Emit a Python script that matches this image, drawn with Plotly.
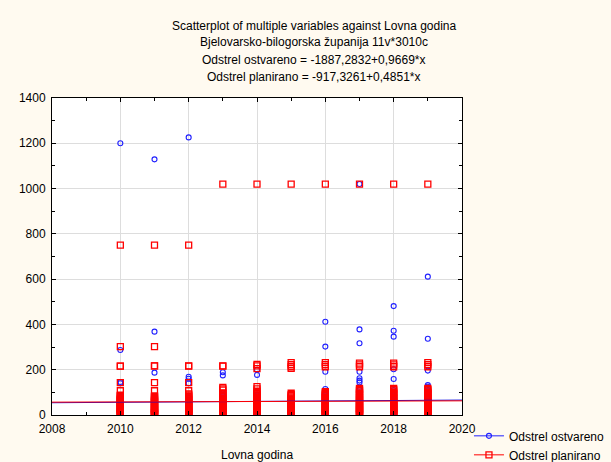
import plotly.graph_objects as go

# ---- data ----
years = [2010, 2011, 2012, 2013, 2014, 2015, 2016, 2017, 2018, 2019]

ostvareno_2010 = [1200, 287, 146, 140, 80, 75, 70, 62, 55, 50, 45, 40, 35, 31, 28, 24, 20, 17, 14, 11, 9, 7, 5, 4, 3, 2, 1, 0, 0, 0]
planirano_2010 = [750, 302, 216, 216, 143, 107, 88, 85, 80, 76, 72, 68, 64, 60, 56, 52, 48, 44, 40, 36, 32, 28, 25, 22, 18, 15, 12, 9, 6, 3]
ostvareno_2011 = [1129, 368, 187, 80, 76, 71, 66, 60, 54, 49, 45, 41, 37, 33, 29, 26, 22, 19, 16, 14, 11, 9, 7, 6, 4, 3, 2, 1, 0, 0]
planirano_2011 = [750, 302, 217, 217, 143, 107, 84, 81, 77, 73, 69, 63, 59, 55, 50, 46, 43, 38, 34, 30, 27, 23, 20, 16, 13, 10, 8, 5, 3, 1]
ostvareno_2012 = [1226, 169, 160, 140, 85, 79, 74, 68, 63, 57, 52, 47, 43, 38, 34, 30, 26, 23, 20, 17, 14, 12, 10, 8, 6, 4, 3, 2, 1, 0]
planirano_2012 = [750, 217, 216, 143, 107, 93, 89, 84, 79, 74, 70, 66, 61, 57, 53, 48, 44, 40, 36, 32, 28, 24, 21, 17, 14, 11, 8, 6, 3, 1]
ostvareno_2013 = [189, 175, 95, 88, 84, 78, 73, 67, 62, 57, 52, 48, 44, 40, 36, 32, 28, 25, 22, 19, 16, 13, 11, 9, 7, 5, 3, 2, 1, 0]
planirano_2013 = [1020, 217, 216, 122, 115, 110, 98, 93, 88, 84, 79, 74, 70, 65, 61, 56, 52, 47, 43, 39, 35, 31, 27, 23, 19, 15, 12, 8, 5, 2]
ostvareno_2014 = [200, 177, 90, 86, 81, 76, 71, 66, 61, 56, 51, 47, 43, 39, 35, 31, 27, 24, 21, 18, 15, 12, 10, 8, 6, 4, 3, 2, 1, 0]
planirano_2014 = [1020, 224, 217, 205, 125, 115, 105, 96, 92, 87, 83, 78, 73, 69, 64, 60, 55, 51, 46, 42, 38, 33, 29, 25, 21, 17, 13, 9, 6, 2]
ostvareno_2015 = [72, 68, 64, 60, 56, 52, 48, 44, 41, 37, 34, 30, 27, 24, 21, 18, 16, 13, 11, 9, 7, 6, 4, 3, 2, 1, 1, 0, 0, 0]
planirano_2015 = [1020, 231, 222, 213, 206, 96, 90, 85, 80, 75, 71, 66, 62, 57, 53, 49, 44, 40, 36, 32, 28, 24, 20, 17, 13, 10, 7, 4, 2, 0]
ostvareno_2016 = [412, 302, 191, 115, 98, 92, 86, 80, 74, 68, 63, 58, 53, 48, 44, 40, 36, 32, 28, 24, 21, 18, 15, 12, 10, 8, 6, 4, 2, 0]
planirano_2016 = [1020, 231, 222, 213, 103, 99, 94, 90, 85, 80, 76, 71, 67, 62, 58, 53, 49, 45, 41, 37, 33, 29, 25, 21, 17, 14, 10, 7, 4, 1]
ostvareno_2017 = [1020, 378, 317, 191, 162, 152, 144, 110, 100, 93, 86, 79, 72, 66, 60, 54, 49, 44, 39, 34, 30, 26, 22, 18, 14, 11, 8, 5, 3, 0]
planirano_2017 = [1020, 229, 221, 213, 118, 113, 107, 101, 95, 89, 84, 78, 73, 68, 63, 58, 53, 48, 44, 40, 35, 31, 27, 23, 19, 15, 11, 8, 4, 1]
ostvareno_2018 = [481, 372, 346, 202, 159, 110, 100, 92, 85, 78, 71, 65, 59, 53, 48, 43, 38, 34, 30, 26, 22, 19, 16, 13, 10, 8, 6, 4, 2, 0]
planirano_2018 = [1020, 229, 221, 213, 118, 112, 106, 100, 94, 88, 83, 77, 72, 67, 62, 57, 52, 47, 43, 38, 34, 30, 26, 22, 18, 14, 10, 7, 4, 1]
ostvareno_2019 = [611, 337, 196, 132, 125, 105, 98, 90, 83, 76, 70, 64, 58, 52, 47, 42, 37, 33, 29, 25, 21, 18, 15, 12, 9, 7, 5, 3, 1, 0]
planirano_2019 = [1020, 231, 222, 213, 118, 112, 106, 100, 94, 88, 82, 77, 72, 66, 61, 56, 51, 47, 42, 38, 33, 29, 25, 21, 17, 13, 9, 6, 3, 1]

# regression coefficients (as printed in the title)
ost_a, ost_b = -1887.2832, 0.9669
plan_a, plan_b = -917.3261, 0.4851

series_names = ["Odstrel ostvareno", "Odstrel planirano"]
x_tick_labels = ["2008", "2010", "2012", "2014", "2016", "2018", "2020"]
y_tick_labels = ["0", "200", "400", "600", "800", "1000", "1200", "1400"]

# ---- assemble ----
ostvareno = [ostvareno_2010, ostvareno_2011, ostvareno_2012, ostvareno_2013, ostvareno_2014,
             ostvareno_2015, ostvareno_2016, ostvareno_2017, ostvareno_2018, ostvareno_2019]
planirano = [planirano_2010, planirano_2011, planirano_2012, planirano_2013, planirano_2014,
             planirano_2015, planirano_2016, planirano_2017, planirano_2018, planirano_2019]

def flatten(per_year):
    xs, ys = [], []
    for yr, vals in zip(years, per_year):
        xs += [yr] * len(vals)
        ys += vals
    return xs, ys

ox, oy = flatten(ostvareno)
px_, py_ = flatten(planirano)

x_lo, x_hi = int(x_tick_labels[0]), int(x_tick_labels[-1])
y_lo, y_hi = int(y_tick_labels[0]), int(y_tick_labels[-1])

BLUE = "#2020FF"
RED = "#FF0000"
BG = "#FFFAF0"
FONT = "Liberation Sans, Arial, sans-serif"

blue_marker = dict(symbol="circle-open", size=5, color=BLUE, line=dict(width=1.1))
red_marker = dict(symbol="square-open", size=6, color=RED, line=dict(width=1.3))

fig = go.Figure()
fig.add_trace(go.Scatter(x=ox, y=oy, mode="markers", showlegend=False, marker=blue_marker))
fig.add_trace(go.Scatter(x=px_, y=py_, mode="markers", showlegend=False, marker=red_marker))

reg_x = [x_lo, x_hi]
fig.add_trace(go.Scatter(x=reg_x, y=[ost_a + ost_b * v for v in reg_x], mode="lines",
                         showlegend=False, line=dict(color="#0000DD", width=1)))
fig.add_trace(go.Scatter(x=reg_x, y=[plan_a + plan_b * v for v in reg_x], mode="lines",
                         showlegend=False, line=dict(color=RED, width=1)))

# legend-only entries
fig.add_trace(go.Scatter(x=[None], y=[None], mode="lines+markers", name=series_names[0],
                         line=dict(color=BLUE, width=1), marker=blue_marker))
fig.add_trace(go.Scatter(x=[None], y=[None], mode="lines+markers", name=series_names[1],
                         line=dict(color=RED, width=1), marker=red_marker))

title_lines = [
    "Scatterplot of multiple variables against Lovna godina",
    "Bjelovarsko-bilogorska županija 11v*3010c",
    f"{series_names[0]} = {ost_a:.4f}+{ost_b:.4f}*x".replace(".", ","),
    f"{series_names[1]} = {plan_a:.4f}+{plan_b:.4f}*x".replace(".", ","),
]
title_y = [1.227, 1.176, 1.120, 1.066]
for txt, yy in zip(title_lines, title_y):
    fig.add_annotation(text=txt, xref="paper", yref="paper", x=0.64, y=yy,
                       showarrow=False, xanchor="center", yanchor="middle",
                       font=dict(family=FONT, size=12, color="black"))

fig.add_annotation(text="Lovna godina", xref="paper", yref="paper", x=0.5, y=-0.126,
                   showarrow=False, xanchor="center", yanchor="middle",
                   font=dict(family=FONT, size=12, color="black"))

axis_common = dict(showline=True, linecolor="black", linewidth=1, mirror="allticks",
                   ticks="inside", ticklen=4, tickcolor="black", showgrid=True,
                   gridcolor="#DDDDDD", gridwidth=1, zeroline=False, automargin=False,
                   tickfont=dict(family=FONT, size=12, color="black"))

fig.update_xaxes(range=[x_lo, x_hi], tickvals=[int(t) for t in x_tick_labels], ticktext=x_tick_labels,
                 minor=dict(dtick=1, ticks="inside", ticklen=3, tickcolor="black", showgrid=False),
                 ticklabelstandoff=3, **axis_common)
fig.update_yaxes(range=[y_lo, y_hi], tickvals=[int(t) for t in y_tick_labels], ticktext=y_tick_labels,
                 minor=dict(dtick=100, ticks="inside", ticklen=3, tickcolor="black", showgrid=False),
                 ticklabelstandoff=3, **axis_common)

fig.update_layout(
    width=611, height=462,
    margin=dict(l=52, r=149, t=98, b=47, autoexpand=False),
    paper_bgcolor=BG, plot_bgcolor="white",
    font=dict(family=FONT, size=12, color="black"),
    legend=dict(x=1.017, y=-0.02, xanchor="left", yanchor="top", bgcolor="rgba(0,0,0,0)",
                font=dict(family=FONT, size=12, color="black"), tracegroupgap=0,
                itemwidth=30),
)

fig.write_html(
    "out.html",
    config={"displayModeBar": False},
    post_script=f"document.body.style.margin='0';document.body.style.overflow='hidden';"
                f"document.body.style.background='{BG}';",
)
